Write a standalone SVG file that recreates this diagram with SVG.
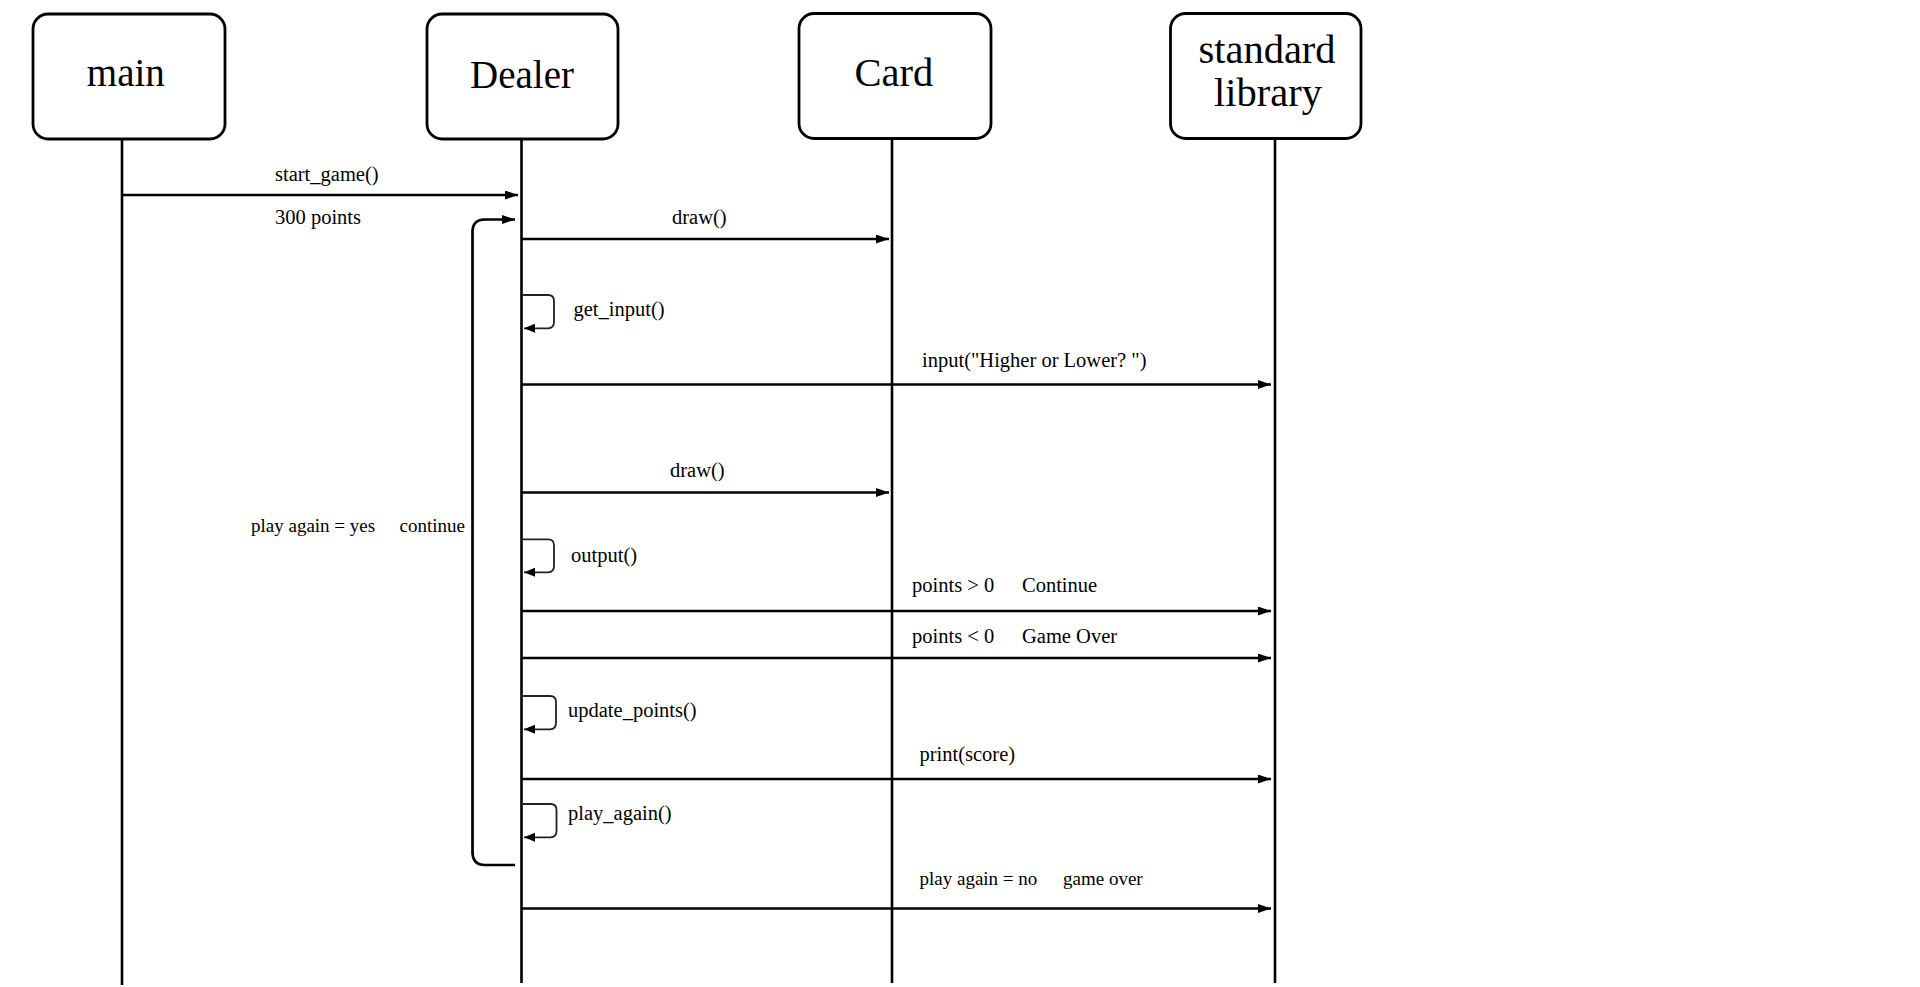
<svg xmlns="http://www.w3.org/2000/svg" width="1920" height="987" viewBox="0 0 1920 987">
<style>
.box{fill:#fff;stroke:#000;stroke-width:2.8}
.life{stroke:#000;stroke-width:2.6;fill:none}
.msg{stroke:#000;stroke-width:2.7;fill:none}
.self{stroke:#222;stroke-width:1.8;fill:none}
.t{font-family:"Liberation Serif","Times New Roman",serif;fill:#000}
.title{font-size:40px;text-anchor:middle}
.lbl{font-size:20.5px}
.lbs{font-size:19px}
</style>
<defs>
<marker id="ah" markerUnits="userSpaceOnUse" markerWidth="14" markerHeight="10" refX="13" refY="4.5" orient="auto">
<path d="M0,0 L13,4.5 L0,9 z" fill="#000"/>
</marker>
<marker id="ahs" markerUnits="userSpaceOnUse" markerWidth="12" markerHeight="10" refX="11" refY="4.5" orient="auto">
<path d="M0,0 L11,4.5 L0,9 z" fill="#000"/>
</marker>
</defs>
<rect width="1920" height="987" fill="#fff"/>
<g id="lifelines">
<line class="life" x1="122" y1="139" x2="122" y2="985"/>
<line class="life" x1="521.5" y1="139" x2="521.5" y2="983"/>
<line class="life" x1="892" y1="139" x2="892" y2="983"/>
<line class="life" x1="1275" y1="139" x2="1275" y2="983"/>
</g>
<g id="node-main">
<rect class="box" x="33" y="14" width="192" height="125" rx="15"/>
<text class="t title" x="125.8" y="86" style="font-size:39px">main</text>
</g>
<g id="node-dealer">
<rect class="box" x="427" y="14" width="191" height="125" rx="15"/>
<text class="t title" x="522" y="88" style="font-size:39px">Dealer</text>
</g>
<g id="node-card">
<rect class="box" x="799" y="13.5" width="192" height="125" rx="15"/>
<text class="t title" x="893.8" y="85.5" style="font-size:40.5px">Card</text>
</g>
<g id="node-stdlib">
<rect class="box" x="1170.5" y="13.5" width="190.5" height="125" rx="15"/>
<text class="t title" x="1267" y="63" style="font-size:40.5px">standard</text>
<text class="t title" x="1268" y="106" style="font-size:40.5px">library</text>
</g>
<g id="connectors">
<line class="msg" x1="122" y1="195" x2="518" y2="195" marker-end="url(#ah)"/>
<path class="msg" d="M472.5,853 V232 Q472.5,219.5 485,219.5 H515" marker-end="url(#ah)"/>
<path class="msg" d="M515,865 H485 Q472.5,865 472.5,852"/>
<line class="msg" x1="521.5" y1="239" x2="889" y2="239" marker-end="url(#ah)"/>
<path class="self" d="M523,295 H548 Q554,295 554,301 V322 Q554,328.3 548,328.3 H524" marker-end="url(#ahs)"/>
<line class="msg" x1="521.5" y1="384.5" x2="1271" y2="384.5" marker-end="url(#ah)"/>
<line class="msg" x1="521.5" y1="492.5" x2="889" y2="492.5" marker-end="url(#ah)"/>
<path class="self" d="M523,539.3 H548 Q554,539.3 554,545.3 V566.3 Q554,572.3 548,572.3 H524" marker-end="url(#ahs)"/>
<line class="msg" x1="521.5" y1="611" x2="1271" y2="611" marker-end="url(#ah)"/>
<line class="msg" x1="521.5" y1="658" x2="1271" y2="658" marker-end="url(#ah)"/>
<path class="self" d="M523,696 H550 Q556,696 556,702 V723.3 Q556,729.3 550,729.3 H524" marker-end="url(#ahs)"/>
<line class="msg" x1="521.5" y1="779" x2="1271" y2="779" marker-end="url(#ah)"/>
<path class="self" d="M523,804 H550.5 Q556.5,804 556.5,810 V831.3 Q556.5,837.3 550.5,837.3 H524" marker-end="url(#ahs)"/>
<line class="msg" x1="521.5" y1="908.5" x2="1271" y2="908.5" marker-end="url(#ah)"/>
</g>
<g id="labels">
<text class="t lbl" x="275" y="181">start_game()</text>
<text class="t lbl" x="275" y="223.5">300 points</text>
<text class="t lbl" x="672" y="224">draw()</text>
<text class="t lbl" x="573.5" y="316">get_input()</text>
<text class="t lbl" x="922" y="367">input("Higher or Lower? ")</text>
<text class="t lbl" x="670" y="477">draw()</text>
<text class="t lbs" x="251" y="532">play again = yes</text>
<text class="t lbs" x="399.5" y="532">continue</text>
<text class="t lbl" x="571" y="561.5">output()</text>
<text class="t lbl" x="912" y="592">points &gt; 0</text>
<text class="t lbl" x="1022" y="592">Continue</text>
<text class="t lbl" x="912" y="643">points &lt; 0</text>
<text class="t lbl" x="1022" y="643">Game Over</text>
<text class="t lbl" x="568" y="717">update_points()</text>
<text class="t lbl" x="919.5" y="761">print(score)</text>
<text class="t lbl" x="568" y="820">play_again()</text>
<text class="t lbs" x="919.5" y="885">play again = no</text>
<text class="t lbs" x="1063" y="885">game over</text>
</g>
</svg>
